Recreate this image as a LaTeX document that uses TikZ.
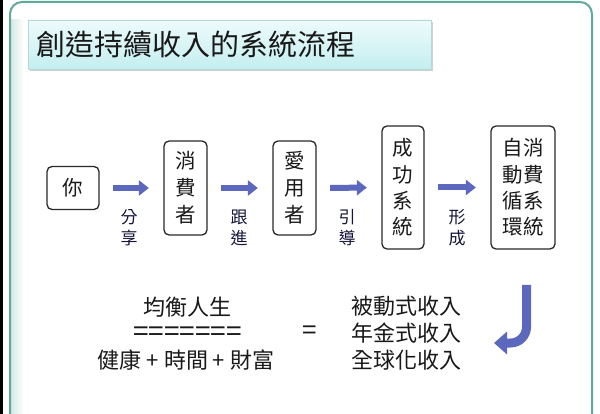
\documentclass[tikz,border=0pt]{standalone}
\usepackage{fontspec}
\newfontfamily\cjk{Noto Sans CJK TC}
\usetikzlibrary{arrows.meta,shadows}
\definecolor{frameteal}{RGB}{95,170,155}
\definecolor{arrowblue}{RGB}{92,104,190}
\definecolor{titletop}{RGB}{238,251,251}
\definecolor{titlebot}{RGB}{196,238,240}
\definecolor{inkc}{RGB}{25,25,25}
\definecolor{boxline}{RGB}{40,40,40}
\tikzset{
  frameline/.style={draw=frameteal,line width=2pt,rounded corners=12pt},
  titlebox/.style={top color=titletop,bottom color=titlebot,draw=titlebot!80!gray,line width=0.4pt,
    drop shadow={shadow xshift=1.5pt,shadow yshift=-2pt,fill=black!30,opacity=0.6},
    inner xsep=8pt,inner ysep=0pt,text width=387pt,align=left,minimum height=49pt,
    font=\cjk\fontsize{29}{34}\selectfont,text=inkc},
  stepbox/.style={draw=boxline,line width=1.3pt,rounded corners=5pt,inner sep=0pt,align=center,
    font=\cjk\fontsize{20.5}{27}\selectfont,text=inkc},
  flowarrow/.style={draw=arrowblue,line width=6pt,-{Triangle[length=10pt,width=15pt]},
    shorten <=13.5pt,shorten >=14.5pt},
  steplabel/.style={align=center,inner sep=0pt,font=\cjk\fontsize{17}{21}\selectfont,text=inkc!85!blue},
  bottomtext/.style={align=center,inner sep=0pt,font=\cjk\fontsize{22}{27}\selectfont,text=inkc},
  jarrow/.style={draw=arrowblue,line width=9pt,rounded corners=16pt,-{Triangle[length=13pt,width=22pt]}}
}
\begin{document}
\begin{tikzpicture}[x=1pt,y=-1pt]
\useasboundingbox (0,0) rectangle (600,414);
\clip (0,0) rectangle (600,414);
\fill[white] (0,0) rectangle (600,414);
\fill[black] (0,0) rectangle (3,414);
\shade[left color=frameteal!25,right color=white] (11,20) rectangle (24,414);
\draw[frameline] (10,430) -- (10,2) -- (592,2) -- (592,430);
% title
\node[titlebox,anchor=west] (title) at (28,44.5) {創造持續收入的系統流程};
% flow boxes
\node[stepbox,minimum width=52pt,minimum height=43pt] (you) at (73,188) {你};
\node[stepbox,minimum width=43pt,minimum height=94pt] (cons) at (185.5,188) {消\\費\\者};
\node[stepbox,minimum width=43pt,minimum height=94pt] (fan) at (294.5,188) {愛\\用\\者};
\node[stepbox,minimum width=42pt,minimum height=123pt,font=\cjk\fontsize{20.5}{26.3}\selectfont] (succ) at (403,187.5) {成\\功\\系\\統};
\node[stepbox,minimum width=64pt,minimum height=123pt,font=\cjk\fontsize{20.5}{26.3}\selectfont] (auto) at (523,187.5) {自消\\動費\\循系\\環統};
% arrows
\draw[flowarrow] (you.east) -- (cons.west);
\draw[flowarrow] (cons.east) -- (fan.west);
\draw[flowarrow] (fan.east) -- (succ.west);
\draw[flowarrow] (succ.east) -- (auto.west);
% labels
\node[steplabel] (l1) at (129,227.5) {分\\享};
\node[steplabel] (l2) at (239,227.5) {跟\\進};
\node[steplabel] (l3) at (347,227.5) {引\\導};
\node[steplabel] (l4) at (457,227.5) {形\\成};
% bottom
\node[bottomtext] (bal) at (187,307) {均衡人生};
\node[bottomtext,font=\cjk\fontsize{28}{27}\selectfont] (eqline) at (187.5,334) {=======};
\node[bottomtext] (hw) at (186,360) {健康 + 時間 + 財富};
\node[bottomtext,font=\cjk\fontsize{26}{27}\selectfont] (eq) at (310,333) {=};
\node[bottomtext] (income) at (406,333) {被動式收入\\年金式收入\\全球化收入};
% J arrow
\coordinate (jtop) at (526.5,285);
\coordinate (jend) at (494,343);
\draw[jarrow] (jtop) |- (jend);
\end{tikzpicture}
\end{document}
